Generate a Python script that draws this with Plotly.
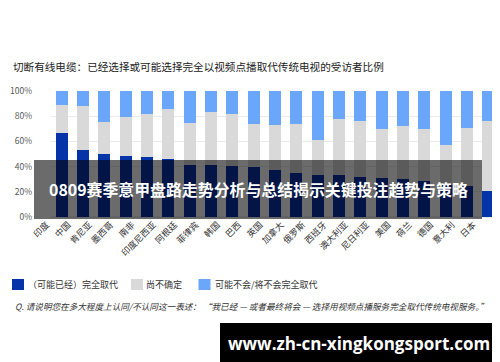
import plotly.graph_objects as go

countries = ["印度", "中国", "肯尼亚", "墨西哥", "南非", "印度尼西亚", "阿根廷", "菲律宾", "韩国", "巴西", "英国",
             "加拿大", "俄罗斯", "西班牙", "澳大利亚", "尼日利亚", "美国", "荷兰", "德国", "意大利", "日本"]
replaced = [67, 53, 50, 48.5, 47.5, 46, 41, 41, 40.5, 39.5, 37, 35, 33, 33, 32, 31, 30.5, 28.5, 26, 25, 21]
unsure = [22, 35, 25.5, 31, 34, 40, 34, 42.5, 41, 34, 36, 38.5, 28.5, 44.5, 44, 39, 42, 41.5, 31.5, 45.5, 55]
not_replace = [11, 12, 24.5, 20.5, 18.5, 14, 25, 16.5, 18.5, 26.5, 27, 26.5, 38.5, 22.5, 24, 30, 27.5, 30, 42.5, 29.5, 24]
series_names = ["（可能已经）完全取代", "尚不确定", "可能不会/将不会完全取代"]
series_colors = ["#0533a8", "#d9d9d9", "#6aa6fa"]
y_ticks = [0, 20, 40, 60, 80, 100]

title_text = "切断有线电缆：已经选择或可能选择完全以视频点播取代传统电视的受访者比例"
note_text = "Q. 请说明您在多大程度上认同/不认同这一表述： “我已经 — 或者最终将会 — 选择用视频点播服务完全取代传统电视服务。”"
banner_text = "0809赛季意甲盘路走势分析与总结揭示关键投注趋势与策略"
watermark_text = "www.zh-cn-xingkongsport.com"

W, H = 500, 362
L, R, T, B = 43, 9, 83, 153
PW, PH = W - L - R, H - T - B


def px(x):
    return (x - L) / PW


def py(y):
    return (H - B - y) / PH


FONT = "Noto Sans CJK SC"

fig = go.Figure()
for name, vals, col in zip(series_names, [replaced, unsure, not_replace], series_colors):
    fig.add_trace(go.Bar(x=countries, y=vals, name=name, marker=dict(color=col, line=dict(width=0)),
                         showlegend=False))

fig.update_layout(
    width=W, height=H, barmode="stack", bargap=0.4375,
    margin=dict(l=L, r=R, t=T, b=B, pad=0),
    paper_bgcolor="white", plot_bgcolor="white",
    font=dict(family=FONT, color="#333333"),
    xaxis=dict(tickangle=-45, tickfont=dict(size=8.8, color="#333333", family=FONT), automargin=False,
               showgrid=False, showline=False, ticks="", ticklabelshift=-15, ticklabelstandoff=0),
    yaxis=dict(range=[0, 100], tickvals=y_ticks, ticktext=[f"{v}%" for v in y_ticks], automargin=False,
               tickfont=dict(size=8.5, color="#595959", family=FONT),
               showgrid=True, gridcolor="#ebebeb", gridwidth=1, zeroline=True, zerolinecolor="#ebebeb",
               showline=False, ticks="", ticklabelstandoff=18),
)

shapes = []
annotations = []

# title
annotations.append(dict(text=title_text, xref="paper", yref="paper", x=px(3), y=py(58),
                        xanchor="left", yanchor="middle", showarrow=False,
                        font=dict(size=10.6, color="#222222", family=FONT)))

# manual legend
leg_sq = [4, 123, 190.5]
leg_tx = [18, 136, 205]
for sx, tx, name, col in zip(leg_sq, leg_tx, series_names, series_colors):
    shapes.append(dict(type="rect", xref="paper", yref="paper", x0=px(sx), x1=px(sx + 12),
                       y0=py(282), y1=py(271), fillcolor=col, line=dict(width=0)))
    annotations.append(dict(text=name, xref="paper", yref="paper", x=px(tx), y=py(276.5),
                            xanchor="left", yanchor="middle", showarrow=False,
                            font=dict(size=9, color="#333333", family=FONT)))

# footnote
annotations.append(dict(text=f"<i>{note_text}</i>", xref="paper", yref="paper", x=px(5), y=py(298),
                        xanchor="left", yanchor="middle", showarrow=False,
                        font=dict(size=8.6, color="#333333", family=FONT)))

# banner overlay
shapes.append(dict(type="rect", xref="paper", yref="paper", x0=px(26), x1=px(474), y0=py(211), y1=py(152),
                   fillcolor="rgba(0,0,0,0.58)", line=dict(width=0), layer="above"))
annotations.append(dict(text=f"<b>{banner_text}</b>", xref="paper", yref="paper", x=px(250), y=py(181),
                        xanchor="center", yanchor="middle", showarrow=False,
                        font=dict(size=15.9, color="white", family=FONT)))

# watermark
shapes.append(dict(type="rect", xref="paper", yref="paper", x0=px(212), x1=px(491), y0=py(355), y1=py(315),
                   fillcolor="black", line=dict(width=0), layer="above"))
annotations.append(dict(text=f"<b>{watermark_text}</b>", xref="paper", yref="paper", x=px(351), y=py(335),
                        xanchor="center", yanchor="middle", showarrow=False,
                        font=dict(size=17, color="white", family="Open Sans")))

fig.update_layout(shapes=shapes, annotations=annotations)
fig.write_html("out.html")
